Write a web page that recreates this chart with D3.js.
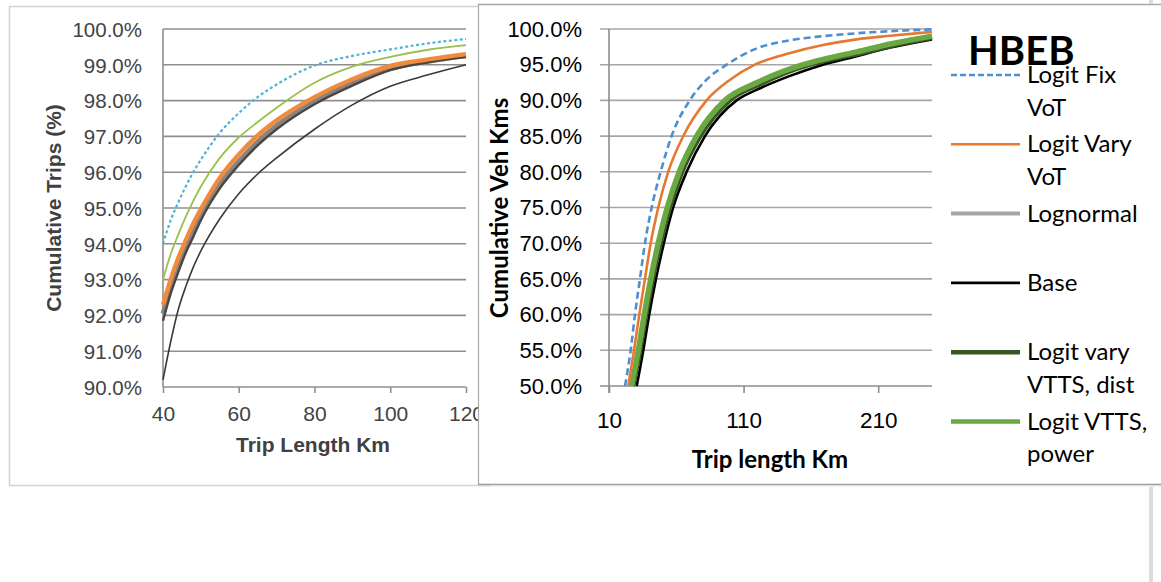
<!DOCTYPE html>
<html>
<head>
<meta charset="utf-8">
<script src="https://cdn.jsdelivr.net/npm/d3@7"></script>
<style>
  html, body { margin: 0; padding: 0; background: #fff; }
  svg { display: block; }
</style>
</head>
<body>
<svg id="chart" width="1161" height="582"></svg>
<script>
// ---------- Cumulative trips (share of trips shorter than a given length) ----------
const tripKm = [40, 42, 44, 46, 48, 50, 55, 60, 65, 70, 80, 90, 100, 110, 120];
const tripsFixVot    = [94.0, 94.65, 95.15, 95.6, 96.0, 96.35, 97.1, 97.65, 98.1, 98.45, 98.98, 99.25, 99.43, 99.6, 99.72];
const tripsVaryVot   = [93.0, 93.7, 94.25, 94.75, 95.2, 95.6, 96.4, 96.97, 97.4, 97.8, 98.5, 98.95, 99.22, 99.42, 99.55];
const tripsVttsPower = [92.3, 93.0, 93.6, 94.1, 94.57, 94.97, 95.85, 96.5, 97.03, 97.45, 98.1, 98.6, 98.97, 99.15, 99.3];
const tripsLognormal = [92.05, 92.75, 93.35, 93.9, 94.35, 94.8, 95.65, 96.3, 96.85, 97.3, 97.97, 98.5, 98.9, 99.1, 99.25];
const tripsDist      = [91.85, 92.6, 93.2, 93.75, 94.2, 94.66, 95.55, 96.2, 96.75, 97.2, 97.9, 98.42, 98.85, 99.07, 99.22];
const tripsBase      = [90.2, 91.25, 92.15, 92.8, 93.35, 93.8, 94.7, 95.4, 95.95, 96.4, 97.2, 97.88, 98.4, 98.72, 99.0];
const tripsYTicks = [90, 91, 92, 93, 94, 95, 96, 97, 98, 99, 100];
const tripsXTicks = [40, 60, 80, 100, 120];

// ---------- Cumulative vehicle kms, [trip length km, cumulative %] ----------
const vkmFixVot = [[21.9, 50], [26.1, 55], [29.3, 60], [33, 65], [36.7, 70], [41.7, 75], [48.4, 80], [56.5, 85], [70, 90], [82.5, 92.9], [97.4, 95], [120, 97.3], [144, 98.4], [169, 99.0], [194, 99.4], [250, 99.95]];
const vkmVaryVot = [[24.3, 50], [28.6, 55], [32.5, 60], [36.7, 65], [41, 70], [46.6, 75], [54, 80], [65.2, 85], [82.5, 90], [100, 92.9], [118.4, 95], [144, 96.6], [169, 97.75], [194, 98.55], [219, 99.05], [250, 99.6]];
const vkmLognormal = [[27.2, 50], [32.2, 55], [36.7, 60], [41.6, 65], [47.3, 70], [54.1, 75], [63.2, 80], [76.4, 85], [98, 90], [122, 92.45], [156.5, 95], [171, 95.7], [196, 96.75], [220, 97.85], [250, 98.92]];
const vkmBase = [[30.6, 50], [35.5, 55], [39.9, 60], [44.9, 65], [50.8, 70], [57.7, 75], [67.7, 80], [81.3, 85], [104.8, 90], [120, 91.5], [144, 93.4], [169, 95], [194, 96.2], [219, 97.4], [250, 98.55]];
const vkmVttsDist = [[27.6, 50], [32.7, 55], [37.2, 60], [42.1, 65], [47.9, 70], [54.8, 75], [64, 80], [77.4, 85], [99.2, 90], [123, 92.4], [158, 95], [173, 95.7], [198, 96.7], [222, 97.8], [250, 98.85]];
const vkmVttsPower = [[26.8, 50], [31.8, 55], [36.2, 60], [41, 65], [46.6, 70], [53.3, 75], [62.2, 80], [75.1, 85], [96.1, 90], [120, 92.5], [154.3, 95], [169, 95.75], [194, 96.8], [219, 97.9], [250, 99.0]];
const vkmYTicks = [50, 55, 60, 65, 70, 75, 80, 85, 90, 95, 100];
const vkmXTicks = [10, 110, 210];
const legendTitle = "HBEB";
const legendLabels = [["Logit Fix", "VoT"], ["Logit Vary", "VoT"], ["Lognormal"], ["Base"], ["Logit vary", "VTTS, dist"], ["Logit VTTS,", "power"]];

const svg = d3.select("#chart");
const pct = v => v.toFixed(1) + "%";

svg.append("rect").attr("width", 1161).attr("height", 582).attr("fill", "#fff");

// ================= Trips panel (behind) =================
const trips = svg.append("g").attr("font-family", "'Liberation Sans', Arial, sans-serif");
trips.append("rect")
  .attr("x", 9.5).attr("y", 6.5).attr("width", 480).attr("height", 479)
  .attr("fill", "#fff").attr("stroke", "#d2d2d2").attr("stroke-width", 1.5);

const xT = d3.scaleLinear().domain([40, 120]).range([163, 466]);
const yT = d3.scaleLinear().domain([90, 100]).range([387, 29]);

trips.append("g").selectAll("line").data(tripsYTicks).join("line")
  .attr("x1", xT(40)).attr("x2", xT(120))
  .attr("y1", d => yT(d)).attr("y2", d => yT(d))
  .attr("stroke", "#8e8e8e").attr("stroke-width", 1.6);

trips.append("line")
  .attr("x1", xT(40)).attr("x2", xT(40)).attr("y1", yT(100)).attr("y2", yT(90))
  .attr("stroke", "#8e8e8e").attr("stroke-width", 1.6);

const tyAxis = trips.append("g").attr("transform", `translate(${xT(40)},0)`)
  .call(d3.axisLeft(yT).tickValues(tripsYTicks).tickSize(0).tickPadding(21).tickFormat(pct));
tyAxis.select(".domain").remove();
tyAxis.selectAll("text").attr("font-size", 20.5).attr("fill", "#434343").attr("dy", "0.36em");

const txAxis = trips.append("g").attr("transform", `translate(0,${yT(90)})`)
  .call(d3.axisBottom(xT).tickValues(tripsXTicks).tickSize(6).tickFormat(d3.format("d")));
txAxis.select(".domain").remove();
txAxis.selectAll("line").attr("stroke", "#8e8e8e").attr("stroke-width", 1.6);
txAxis.selectAll("text").attr("font-size", 21).attr("fill", "#434343").attr("y", 34).attr("dy", null);

trips.append("text").attr("x", 313).attr("y", 452).attr("text-anchor", "middle")
  .attr("font-size", 21).attr("font-weight", "bold").attr("fill", "#404040").text("Trip Length Km");
trips.append("text").attr("transform", "translate(61,208) rotate(-90)").attr("text-anchor", "middle")
  .attr("font-size", 21).attr("font-weight", "bold").attr("fill", "#404040").text("Cumulative Trips (%)");

const tripLine = vals => d3.line().x((d, i) => xT(tripKm[i])).y(d => yT(d)).curve(d3.curveMonotoneX)(vals);
const tripSeries = [
  { v: tripsBase, c: "#3a3a3a", w: 1.6 },
  { v: tripsLognormal, c: "#8a8480", w: 5 },
  { v: tripsDist, c: "#4c4540", w: 2.4 },
  { v: tripsVttsPower, c: "#f28a3c", w: 4.2 },
  { v: tripsVaryVot, c: "#98c04c", w: 1.8 },
  { v: tripsFixVot, c: "#4fb3d4", w: 2.2, dash: "3,2.5" }
];
trips.append("g").selectAll("path").data(tripSeries).join("path")
  .attr("d", s => tripLine(s.v)).attr("fill", "none")
  .attr("stroke", s => s.c).attr("stroke-width", s => s.w)
  .attr("stroke-dasharray", s => s.dash || null);

// ================= Vehicle kms panel (front) =================
const vkm = svg.append("g").attr("font-family", "Lato, 'Noto Sans', sans-serif");
vkm.append("rect").attr("x", 478).attr("y", 4).attr("width", 700).attr("height", 480).attr("fill", "#fff");
vkm.append("line").attr("x1", 478.5).attr("x2", 478.5).attr("y1", 4).attr("y2", 484.5).attr("stroke", "#a9a9a9").attr("stroke-width", 1.2);
vkm.append("line").attr("x1", 478).attr("x2", 1161).attr("y1", 4.5).attr("y2", 4.5).attr("stroke", "#a9a9a9").attr("stroke-width", 1.5);
vkm.append("line").attr("x1", 478).attr("x2", 1161).attr("y1", 484.5).attr("y2", 484.5).attr("stroke", "#9c9c9c").attr("stroke-width", 1.5);
vkm.append("line").attr("x1", 478).attr("x2", 1161).attr("y1", 486).attr("y2", 486).attr("stroke", "#e2e2e2").attr("stroke-width", 1.2);
// page edge strip
svg.append("rect").attr("x", 1149).attr("y", 0).attr("width", 4).attr("height", 4).attr("fill", "#d9dbde");
svg.append("rect").attr("x", 1149).attr("y", 487).attr("width", 4).attr("height", 95).attr("fill", "#d9dbde");

const xV = d3.scaleLinear().domain([10, 250]).range([609, 932]);
const yV = d3.scaleLinear().domain([50, 100]).range([386, 29]);

vkm.append("g").selectAll("line").data(vkmYTicks).join("line")
  .attr("x1", xV(10) - 9).attr("x2", xV(250))
  .attr("y1", d => yV(d)).attr("y2", d => yV(d))
  .attr("stroke", d => d === 50 ? "#8c8c8c" : "#a6a6a6").attr("stroke-width", 1.6);
vkm.append("line").attr("x1", xV(10)).attr("x2", xV(10)).attr("y1", yV(100)).attr("y2", yV(50) + 7)
  .attr("stroke", "#8c8c8c").attr("stroke-width", 1.6);

const vyAxis = vkm.append("g").attr("transform", `translate(${xV(10)},0)`)
  .call(d3.axisLeft(yV).tickValues(vkmYTicks).tickSize(0).tickPadding(27).tickFormat(pct));
vyAxis.select(".domain").remove();
vyAxis.selectAll("text").attr("font-size", 22).attr("fill", "#000").attr("dy", "0.33em");

const vxAxis = vkm.append("g").attr("transform", `translate(0,${yV(50)})`)
  .call(d3.axisBottom(xV).tickValues(vkmXTicks).tickSize(7).tickFormat(d3.format("d")));
vxAxis.select(".domain").remove();
vxAxis.selectAll("line").attr("stroke", "#8c8c8c").attr("stroke-width", 1.6);
vxAxis.selectAll("text").attr("font-size", 22.5).attr("fill", "#000").attr("y", 42).attr("dy", null);

vkm.append("text").attr("x", 770).attr("y", 468).attr("text-anchor", "middle")
  .attr("font-size", 24).attr("font-weight", "bold").attr("fill", "#000").text("Trip length Km");
vkm.append("text").attr("transform", "translate(508,208) rotate(-90)").attr("text-anchor", "middle")
  .attr("font-size", 24).attr("font-weight", "bold").attr("fill", "#000").text("Cumulative Veh Kms");

const vkmSeries = [
  { v: vkmFixVot, c: "#4e8fcf", w: 2.6, dash: "7,4" },
  { v: vkmVaryVot, c: "#e6782f", w: 2.6 },
  { v: vkmLognormal, c: "#a5a5a5", w: 4 },
  { v: vkmBase, c: "#000", w: 2.6 },
  { v: vkmVttsDist, c: "#375623", w: 5.5 },
  { v: vkmVttsPower, c: "#6aa843", w: 5.5 }
];
const drawOrder = [3, 2, 4, 5, 1, 0];
const vLine = d3.line().x(d => xV(d[0])).y(d => yV(d[1])).curve(d3.curveMonotoneX);
vkm.append("g").selectAll("path").data(drawOrder.map(i => vkmSeries[i])).join("path")
  .attr("d", s => vLine(s.v)).attr("fill", "none")
  .attr("stroke", s => s.c).attr("stroke-width", s => s.w)
  .attr("stroke-dasharray", s => s.dash || null);

// legend
const legend = vkm.append("g");
legend.append("text").attr("x", 968).attr("y", 65).attr("font-size", 40).attr("font-weight", "bold")
  .attr("fill", "#000").text(legendTitle);
const rows = legend.selectAll("g.item").data(vkmSeries).join("g").attr("class", "item")
  .attr("transform", (d, i) => `translate(0,${75 + i * 69.3})`);
rows.append("line").attr("x1", 951).attr("x2", 1020).attr("y1", 0).attr("y2", 0)
  .attr("stroke", d => d.c)
  .attr("stroke-width", d => Math.min(d.w, 4.5))
  .attr("stroke-dasharray", d => d.dash ? "6,3" : null);
rows.each(function (d, i) {
  const t = d3.select(this).append("text").attr("x", 1027).attr("font-size", 24).attr("fill", "#000");
  legendLabels[i].forEach((s, k) => t.append("tspan").attr("x", 1027).attr("y", 8 + k * 32.5).text(s));
});
</script>
</body>
</html>
